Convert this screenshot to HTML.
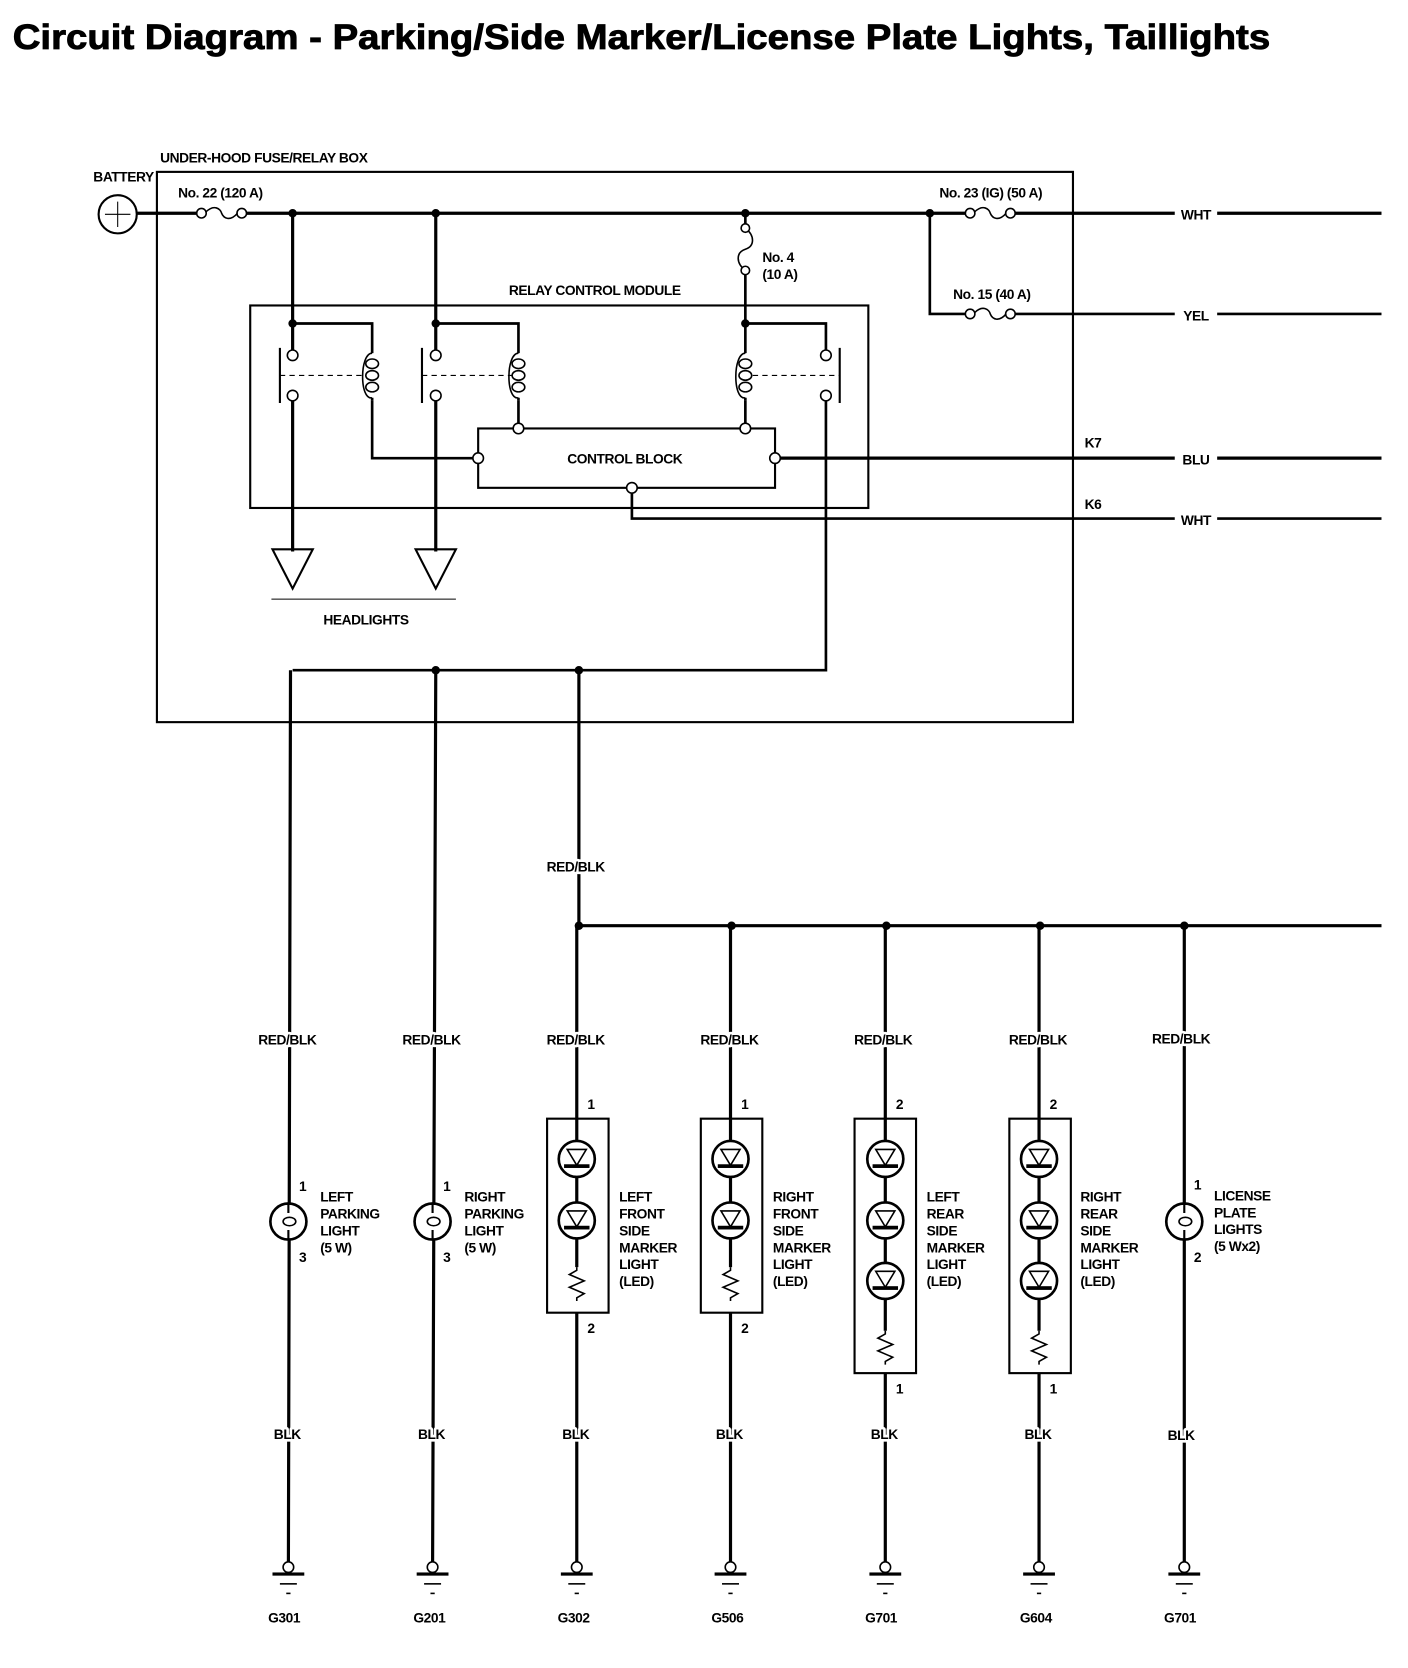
<!DOCTYPE html>
<html><head><meta charset="utf-8"><style>
html,body{margin:0;padding:0;background:#fff}
svg{display:block}
text{font-family:"Liberation Sans Narrow","Liberation Sans",sans-serif;font-weight:bold;font-size:13px;fill:#000;letter-spacing:-0.4px}
.ti{font-family:"Liberation Sans",sans-serif;font-size:33px;letter-spacing:0;stroke:#000;stroke-width:0.8px}
.wl text{stroke:#fff;stroke-width:5px;paint-order:stroke;stroke-linejoin:round}
</style></head><body>
<svg width="1408" height="1668" viewBox="0 0 1328 1573" xmlns="http://www.w3.org/2000/svg">
<defs>
<g id="led"><circle r="17" fill="#fff" stroke="#000" stroke-width="2.5"/><path d="M-9,-9 L9,-9 L0,6 Z" fill="none" stroke="#000" stroke-width="1.5"/><rect x="-12" y="5" width="24" height="3.5" fill="#000"/></g>
<g id="bulb"><circle r="17" fill="#fff" stroke="#000" stroke-width="2.5"/><ellipse cx="1" cy="0" rx="6" ry="4" fill="none" stroke="#000" stroke-width="1.5"/><path d="M0,-17 L0,-8 M0,8 L0,17" stroke="#000" stroke-width="2"/></g>
<g id="res"><path d="M0,0 L0,3 L-7,7 L7,13 L-7,19 L7,25 L0,29 L0,32" fill="none" stroke="#000" stroke-width="1.5"/></g>
<g id="gnd"><circle cx="0" cy="-3" r="5" fill="#fff" stroke="#000" stroke-width="1.5"/><rect x="-15" y="2" width="30" height="3" fill="#000"/><rect x="-8" y="12" width="16" height="1.5" fill="#000"/><rect x="-2" y="21" width="4" height="1.5" fill="#000"/></g>
<g id="fuse"><circle cx="0" cy="0" r="4.5" fill="#fff" stroke="#000" stroke-width="1.5"/><circle cx="38" cy="0" r="4.5" fill="#fff" stroke="#000" stroke-width="1.5"/><path d="M4,-1 C12,-9 18,-4 19,0 C21,5 27,8 34,0" fill="none" stroke="#000" stroke-width="1.5"/></g>
<g id="coil"><path d="M0,0 L0,3 M0,45 L0,48" stroke="#000" stroke-width="2.5"/><path d="M0,3 C-12,3 -12,48 0,45" fill="none" stroke="#000" stroke-width="1.5"/><ellipse cx="0" cy="13" rx="6" ry="4.5" fill="none" stroke="#000" stroke-width="1.5"/><ellipse cx="0" cy="24" rx="6" ry="4.5" fill="none" stroke="#000" stroke-width="1.5"/><ellipse cx="0" cy="35" rx="6" ry="4.5" fill="none" stroke="#000" stroke-width="1.5"/></g>
</defs>
<text class="ti" x="12" y="46" textLength="1186" lengthAdjust="spacingAndGlyphs">Circuit Diagram - Parking/Side Marker/License Plate Lights, Taillights</text>

<g fill="none" stroke="#000">
<rect x="148" y="162" width="864" height="519" stroke-width="2"/>
<rect x="236" y="288" width="583" height="191" stroke-width="2"/>
<rect x="451" y="404" width="280" height="56" stroke-width="2"/>
<path d="M128,201 L185,201 M232,201 L915,201 M957,201 L1303,201" stroke-width="3"/>
<path d="M877,201 L877,296 L915,296 M957,296 L1303,296" stroke-width="2.5"/>
<path d="M276,201 L276,330 M276,378 L276,520" stroke-width="3"/>
<path d="M276,305 L351,305 L351,330 M351,378 L351,432 L446,432" stroke-width="2.5"/>
<path d="M264,328 L264,380" stroke-width="2"/>
<path d="M264,354 L345,354" stroke-width="1" stroke-dasharray="5,4"/>
<path d="M411,201 L411,330 M411,378 L411,520" stroke-width="3"/>
<path d="M411,305 L489,305 L489,330 M489,378 L489,400" stroke-width="2.5"/>
<path d="M398,328 L398,380" stroke-width="2"/>
<path d="M398,354 L483,354" stroke-width="1" stroke-dasharray="5,4"/>
<path d="M703,201 L703,215 M703,255 L703,330 M703,378 L703,400" stroke-width="2.5"/>
<path d="M703,215 C712,222 712,232 703,235 C694,238 694,248 703,255" stroke-width="1.5"/>
<path d="M703,305 L779,305 L779,330 M779,378 L779,632 L276,632" stroke-width="2.5"/>
<path d="M792,328 L792,380" stroke-width="2"/>
<path d="M710,354 L792,354" stroke-width="1" stroke-dasharray="5,4"/>
<path d="M736,432 L1303,432" stroke-width="3"/>
<path d="M596,465 L596,489 L1303,489" stroke-width="2.5"/>
<path d="M257,518 L295,518 L276,555 Z M392,518 L430,518 L411,555 Z" stroke-width="2"/>
<path d="M256,565 L430,565" stroke-width="1"/>
<path d="M274,632 L272,1478 M411,632 L408,1478" stroke-width="3"/>
<path d="M546,632 L546,873 L1303,873" stroke-width="3"/>
<path d="M544,873 L544,1478 M689,873 L689,1478 M835,873 L835,1478 M980,873 L980,1478 M1117,873 L1117,1478" stroke-width="3"/>
<rect x="516" y="1055" width="58" height="183" stroke-width="2" fill="#fff"/>
<rect x="661" y="1055" width="58" height="183" stroke-width="2" fill="#fff"/>
<rect x="806" y="1055" width="58" height="240" stroke-width="2" fill="#fff"/>
<rect x="952" y="1055" width="58" height="240" stroke-width="2" fill="#fff"/>
<path d="M544,1055 L544,1195 M689,1055 L689,1195 M835,1055 L835,1255 M980,1055 L980,1255" stroke-width="3"/>
</g>
<use href="#fuse" x="190" y="201"/><use href="#fuse" x="915" y="201"/><use href="#fuse" x="915" y="296"/>
<circle cx="703" cy="215" r="4" fill="#fff" stroke="#000" stroke-width="1.5"/><circle cx="703" cy="255" r="4" fill="#fff" stroke="#000" stroke-width="1.5"/>
<use href="#coil" x="351" y="330"/><use href="#coil" x="489" y="330"/><use href="#coil" x="703" y="330"/>
<g fill="#fff" stroke="#000" stroke-width="1.5">
<circle cx="276" cy="335" r="5"/><circle cx="276" cy="373" r="5"/>
<circle cx="411" cy="335" r="5"/><circle cx="411" cy="373" r="5"/>
<circle cx="779" cy="335" r="5"/><circle cx="779" cy="373" r="5"/>
<circle cx="451" cy="432" r="5"/><circle cx="489" cy="404" r="5"/><circle cx="703" cy="404" r="5"/><circle cx="731" cy="432" r="5"/><circle cx="596" cy="460" r="5"/>
</g>
<g fill="#000">
<circle cx="276" cy="201" r="4"/><circle cx="411" cy="201" r="4"/><circle cx="703" cy="201" r="4"/><circle cx="877" cy="201" r="4"/>
<circle cx="276" cy="305" r="4"/><circle cx="411" cy="305" r="4"/><circle cx="703" cy="305" r="4"/>
<circle cx="411" cy="632" r="4"/><circle cx="546" cy="632" r="4"/>
<circle cx="546" cy="873" r="4"/><circle cx="690" cy="873" r="4"/><circle cx="836" cy="873" r="4"/><circle cx="981" cy="873" r="4"/><circle cx="1117" cy="873" r="4"/>
</g>
<circle cx="111" cy="202" r="18" fill="#fff" stroke="#000" stroke-width="2"/>
<path d="M99,202 L123,202 M111,190 L111,214" stroke="#000" stroke-width="1"/>
<use href="#bulb" x="272" y="1152"/><use href="#bulb" x="408" y="1152"/><use href="#bulb" x="1117" y="1152"/>
<use href="#led" x="544" y="1093"/><use href="#led" x="544" y="1151"/><use href="#res" x="544" y="1195"/>
<use href="#led" x="689" y="1093"/><use href="#led" x="689" y="1151"/><use href="#res" x="689" y="1195"/>
<use href="#led" x="835" y="1093"/><use href="#led" x="835" y="1151"/><use href="#led" x="835" y="1208"/><use href="#res" x="835" y="1255"/>
<use href="#led" x="980" y="1093"/><use href="#led" x="980" y="1151"/><use href="#led" x="980" y="1208"/><use href="#res" x="980" y="1255"/>
<use href="#gnd" x="272" y="1481"/><use href="#gnd" x="408" y="1481"/><use href="#gnd" x="544" y="1481"/><use href="#gnd" x="689" y="1481"/><use href="#gnd" x="835" y="1481"/><use href="#gnd" x="980" y="1481"/><use href="#gnd" x="1117" y="1481"/>

<text x="151" y="153">UNDER-HOOD FUSE/RELAY BOX</text>
<text x="88" y="171">BATTERY</text>
<text x="168" y="186">No. 22 (120 A)</text>
<text x="886" y="186">No. 23 (IG) (50 A)</text>
<text x="899" y="282">No. 15 (40 A)</text>
<text x="719" y="247">No. 4</text><text x="719" y="263">(10 A)</text>
<text x="480" y="278">RELAY CONTROL MODULE</text>
<text x="535" y="437">CONTROL BLOCK</text>
<text x="305" y="589">HEADLIGHTS</text>
<text x="1023" y="422">K7</text><text x="1023" y="480">K6</text>
<g text-anchor="middle" style="font-size:12px">
<rect x="1108" y="193" width="40" height="16" fill="#fff"/><text x="1128" y="207">WHT</text>
<rect x="1108" y="288" width="40" height="16" fill="#fff"/><text x="1128" y="302">YEL</text>
<rect x="1108" y="424" width="40" height="16" fill="#fff"/><text x="1128" y="438">BLU</text>
<rect x="1108" y="481" width="40" height="16" fill="#fff"/><text x="1128" y="495">WHT</text>
</g>
<g text-anchor="middle" class="wl">
<text x="543" y="822">RED/BLK</text>
<text x="271" y="985">RED/BLK</text><text x="407" y="985">RED/BLK</text><text x="543" y="985">RED/BLK</text><text x="688" y="985">RED/BLK</text><text x="833" y="985">RED/BLK</text><text x="979" y="985">RED/BLK</text><text x="1114" y="984">RED/BLK</text>
<text x="271" y="1357">BLK</text><text x="407" y="1357">BLK</text><text x="543" y="1357">BLK</text><text x="688" y="1357">BLK</text><text x="834" y="1357">BLK</text><text x="979" y="1357">BLK</text><text x="1114" y="1358">BLK</text>
<text x="268" y="1530">G301</text><text x="405" y="1530">G201</text><text x="541" y="1530">G302</text><text x="686" y="1530">G506</text><text x="831" y="1530">G701</text><text x="977" y="1530">G604</text><text x="1113" y="1530">G701</text>
</g>
<text x="282" y="1123">1</text><text x="282" y="1190">3</text>
<text x="418" y="1123">1</text><text x="418" y="1190">3</text>
<text x="1126" y="1122">1</text><text x="1126" y="1190">2</text>
<text x="554" y="1046">1</text><text x="554" y="1257">2</text>
<text x="699" y="1046">1</text><text x="699" y="1257">2</text>
<text x="845" y="1046">2</text><text x="845" y="1314">1</text>
<text x="990" y="1046">2</text><text x="990" y="1314">1</text>
<g style="font-size:12.5px">
<text x="302" y="1133">LEFT</text><text x="302" y="1149">PARKING</text><text x="302" y="1165">LIGHT</text><text x="302" y="1181">(5 W)</text>
<text x="438" y="1133">RIGHT</text><text x="438" y="1149">PARKING</text><text x="438" y="1165">LIGHT</text><text x="438" y="1181">(5 W)</text>
<text x="584" y="1133">LEFT</text><text x="584" y="1149">FRONT</text><text x="584" y="1165">SIDE</text><text x="584" y="1181">MARKER</text><text x="584" y="1197">LIGHT</text><text x="584" y="1213">(LED)</text>
<text x="729" y="1133">RIGHT</text><text x="729" y="1149">FRONT</text><text x="729" y="1165">SIDE</text><text x="729" y="1181">MARKER</text><text x="729" y="1197">LIGHT</text><text x="729" y="1213">(LED)</text>
<text x="874" y="1133">LEFT</text><text x="874" y="1149">REAR</text><text x="874" y="1165">SIDE</text><text x="874" y="1181">MARKER</text><text x="874" y="1197">LIGHT</text><text x="874" y="1213">(LED)</text>
<text x="1019" y="1133">RIGHT</text><text x="1019" y="1149">REAR</text><text x="1019" y="1165">SIDE</text><text x="1019" y="1181">MARKER</text><text x="1019" y="1197">LIGHT</text><text x="1019" y="1213">(LED)</text>
<text x="1145" y="1132">LICENSE</text><text x="1145" y="1148">PLATE</text><text x="1145" y="1164">LIGHTS</text><text x="1145" y="1180">(5 Wx2)</text>
</g>
</svg>
</body></html>
